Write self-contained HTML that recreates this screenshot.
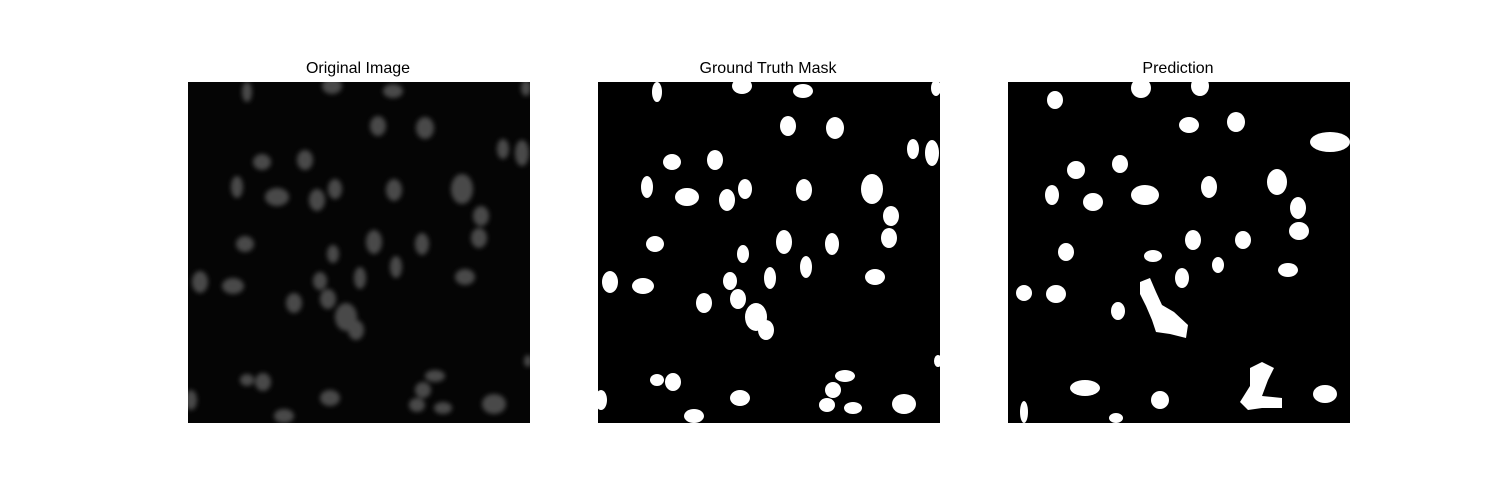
<!DOCTYPE html>
<html><head><meta charset="utf-8"><style>
body{margin:0;background:#fff;}
svg{display:block;font-family:"Liberation Sans","DejaVu Sans",sans-serif;}
</style></head><body>
<svg width="1500" height="500">
<text x="358" y="73" text-anchor="middle" font-size="16">Original Image</text>
<text x="768" y="73" text-anchor="middle" font-size="16">Ground Truth Mask</text>
<text x="1178" y="73" text-anchor="middle" font-size="16">Prediction</text>
<defs>
<clipPath id="c1"><rect x="188" y="82" width="342" height="341"/></clipPath>
<clipPath id="c2"><rect x="598" y="82" width="342" height="341"/></clipPath>
<clipPath id="c3"><rect x="1008" y="82" width="342" height="341"/></clipPath>
<filter id="bl"><feGaussianBlur stdDeviation="2.5"/></filter>
</defs>
<rect x="188" y="82" width="342" height="341" fill="#050505"/>
<rect x="598" y="82" width="342" height="341" fill="#000"/>
<rect x="1008" y="82" width="342" height="341" fill="#000"/>
<g id="orig" clip-path="url(#c1)" filter="url(#bl)"></g>
<g id="gt" clip-path="url(#c2)"></g>
<g id="pr" clip-path="url(#c3)" fill="#fff">
<polygon points="1140,282 1150,278 1156,292 1162,305 1174,312 1188,325 1186,338 1170,334 1156,332 1152,320 1146,306 1140,294"/>
<polygon points="1250,368 1262,362 1274,368 1268,380 1262,396 1282,398 1282,408 1262,408 1248,410 1240,402 1250,386"/>
</g>
</svg>
<script>
const gtCells=[[657,92,5,10],[742,86,10,8],[803,91,10,7],[788,126,8,10],[835,128,9,11],[936,88,5,8],[672,162,9,8],[715,160,8,10],[913,149,6,10],[932,153,7,13],[647,187,6,11],[687,197,12,9],[727,200,8,11],[745,189,7,10],[804,190,8,11],[872,189,11,15],[891,216,8,10],[655,244,9,8],[784,242,8,12],[832,244,7,11],[889,238,8,10],[743,254,6,9],[610,282,8,11],[643,286,11,8],[730,281,7,9],[770,278,6,11],[806,267,6,11],[875,277,10,8],[704,303,8,10],[738,299,8,10],[756,317,11,14],[766,330,8,10],[657,380,7,6],[673,382,8,9],[845,376,10,6],[833,390,8,8],[827,405,8,7],[853,408,9,6],[740,398,10,8],[904,404,12,10],[601,400,6,10],[694,416,10,7],[938,361,4,6]];
const origShift=-410;
const predCells=[[1055,100,8,9],[1141,88,10,10],[1200,86,9,10],[1189,125,10,8],[1236,122,9,10],[1330,142,20,10],[1076,170,9,9],[1120,164,8,9],[1052,195,7,10],[1093,202,10,9],[1145,195,14,10],[1209,187,8,11],[1277,182,10,13],[1298,208,8,11],[1299,231,10,9],[1066,252,8,9],[1153,256,9,6],[1193,240,8,10],[1243,240,8,9],[1218,265,6,8],[1288,270,10,7],[1182,278,7,10],[1024,293,8,8],[1056,294,10,9],[1118,311,7,9],[1085,388,15,8],[1160,400,9,9],[1325,394,12,9],[1116,418,7,5],[1024,412,4,11]];
const NS="http://www.w3.org/2000/svg";
function add(g,c,dx,fill,name){
  const e=document.createElementNS(NS,"ellipse");
  e.setAttribute("cx",c[0]+dx);e.setAttribute("cy",c[1]);
  e.setAttribute("rx",c[2]);e.setAttribute("ry",c[3]);
  e.setAttribute("fill",fill);
  
  
  g.appendChild(e);
}
const go=document.getElementById("orig"),gg=document.getElementById("gt"),gp=document.getElementById("pr");
gtCells.forEach(c=>{add(go,c,origShift,"#4a4a4a","original-cell");add(gg,c,0,"#fff","ground-truth-cell");});
predCells.forEach(c=>add(gp,c,0,"#fff","prediction-cell"));
</script>
</body></html>
